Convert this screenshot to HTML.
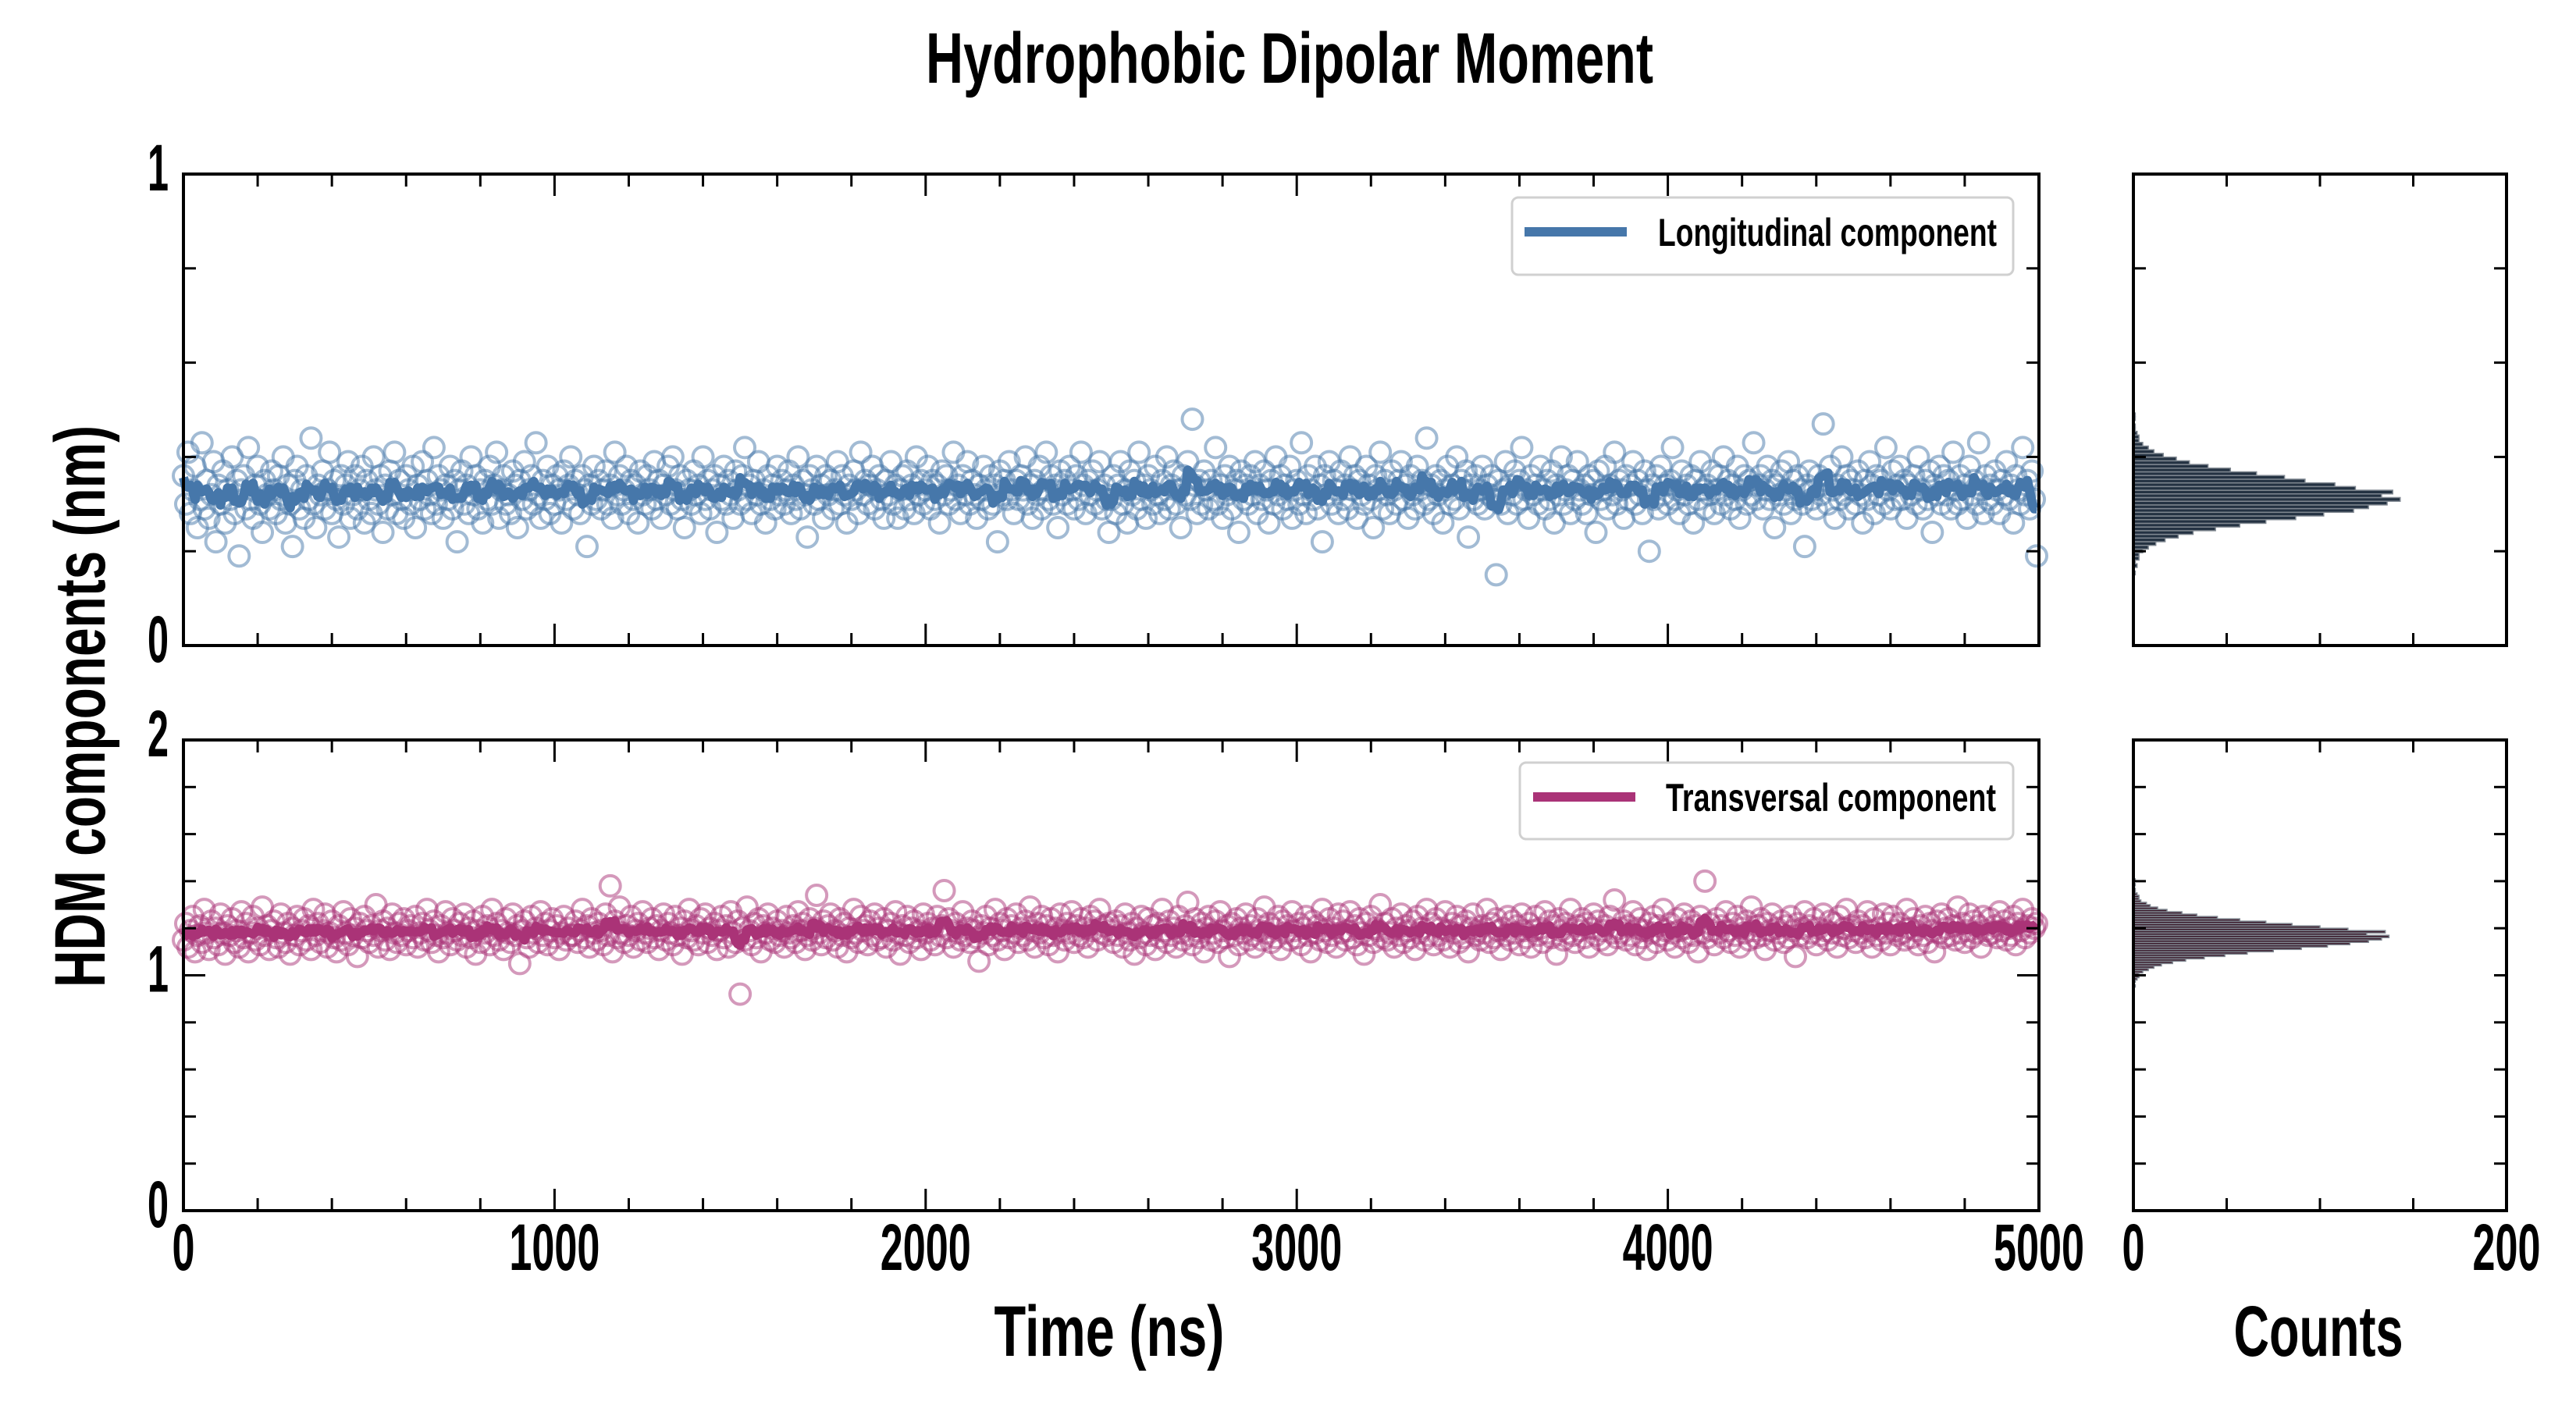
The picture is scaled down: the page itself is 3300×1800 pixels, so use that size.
<!DOCTYPE html>
<html><head><meta charset="utf-8"><style>
html,body{margin:0;padding:0;background:#fff;}
svg{display:block;}
text{font-family:"Liberation Sans Narrow","Liberation Sans",sans-serif;font-weight:bold;fill:#000;}
</style></head><body>
<svg id="chart" width="3300" height="1800" viewBox="0 0 3300 1800" xmlns="http://www.w3.org/2000/svg"></svg>
<script>
const longitudinal = [
0.36,0.30,0.41,0.28,0.33,0.38,0.25,0.31,0.43,0.29,0.35,0.27,0.32,0.39,0.22,0.34,0.30,0.37,0.26,0.33,
0.31,0.40,0.28,0.35,0.19,0.33,0.36,0.29,0.42,0.31,0.27,0.34,0.38,0.30,0.24,0.35,0.32,0.29,0.37,0.33,
0.28,0.36,0.31,0.40,0.26,0.34,0.30,0.21,0.35,0.38,0.29,0.33,0.27,0.36,0.31,0.44,0.30,0.25,0.34,0.32,
0.37,0.29,0.33,0.41,0.28,0.35,0.31,0.23,0.36,0.30,0.34,0.39,0.27,0.32,0.36,0.29,0.33,0.38,0.26,0.35,
0.31,0.28,0.40,0.33,0.30,0.36,0.24,0.34,0.29,0.37,0.32,0.41,0.28,0.35,0.31,0.27,0.36,0.33,0.30,0.38,
0.25,0.34,0.31,0.39,0.29,0.35,0.32,0.28,0.42,0.30,0.36,0.33,0.27,0.34,0.31,0.38,0.29,0.35,0.22,0.33,
0.37,0.30,0.34,0.28,0.40,0.32,0.36,0.29,0.33,0.26,0.35,0.31,0.38,0.30,0.34,0.41,0.27,0.33,0.36,0.30,
0.32,0.28,0.37,0.34,0.25,0.35,0.31,0.39,0.29,0.33,0.36,0.30,0.43,0.32,0.27,0.35,0.31,0.38,0.28,0.34,
0.30,0.36,0.33,0.26,0.37,0.31,0.34,0.40,0.29,0.35,0.32,0.28,0.36,0.33,0.21,0.34,0.30,0.38,0.31,0.35,
0.29,0.33,0.37,0.30,0.34,0.27,0.41,0.32,0.36,0.30,0.33,0.38,0.28,0.35,0.31,0.34,0.26,0.37,0.32,0.30,
0.36,0.33,0.29,0.39,0.31,0.35,0.27,0.34,0.32,0.38,0.30,0.40,0.33,0.29,0.36,0.31,0.25,0.35,0.33,0.30,
0.37,0.32,0.34,0.28,0.40,0.31,0.35,0.29,0.33,0.36,0.24,0.34,0.31,0.38,0.30,0.35,0.32,0.27,0.37,0.33,
0.30,0.36,0.42,0.31,0.34,0.28,0.35,0.32,0.39,0.30,0.33,0.26,0.36,0.31,0.34,0.29,0.38,0.32,0.35,0.30,
0.33,0.37,0.28,0.34,0.31,0.40,0.29,0.35,0.32,0.23,0.36,0.33,0.30,0.38,0.31,0.34,0.27,0.36,0.32,0.35,
0.29,0.33,0.39,0.30,0.36,0.32,0.26,0.34,0.31,0.37,0.33,0.28,0.41,0.32,0.35,0.30,0.34,0.38,0.29,0.33,
0.36,0.31,0.27,0.35,0.32,0.39,0.30,0.34,0.27,0.33,0.36,0.29,0.37,0.31,0.34,0.28,0.40,0.32,0.35,0.30,
0.33,0.38,0.29,0.35,0.31,0.34,0.26,0.37,0.32,0.36,0.30,0.33,0.41,0.31,0.34,0.28,0.36,0.32,0.39,0.30,
0.35,0.32,0.27,0.34,0.31,0.38,0.33,0.29,0.36,0.30,0.34,0.22,0.37,0.32,0.35,0.31,0.39,0.33,0.28,0.35,
0.31,0.36,0.33,0.40,0.30,0.34,0.27,0.35,0.32,0.38,0.29,0.33,0.41,0.31,0.36,0.30,0.34,0.25,0.37,0.32,
0.35,0.30,0.38,0.33,0.29,0.36,0.31,0.41,0.34,0.28,0.35,0.32,0.37,0.30,0.33,0.39,0.29,0.34,0.31,0.24,
0.31,0.36,0.28,0.34,0.39,0.30,0.33,0.26,0.37,0.32,0.35,0.29,0.41,0.31,0.34,0.27,0.36,0.33,0.30,0.38,
0.32,0.28,0.35,0.31,0.40,0.29,0.34,0.37,0.30,0.33,0.25,0.36,0.32,0.39,0.31,0.48,0.34,0.28,0.35,0.30,
0.37,0.33,0.29,0.35,0.31,0.42,0.30,0.34,0.27,0.36,0.32,0.38,0.29,0.33,0.35,0.24,0.37,0.31,0.34,0.30,
0.36,0.32,0.39,0.28,0.34,0.31,0.37,0.33,0.26,0.35,0.30,0.40,0.32,0.36,0.29,0.34,0.31,0.38,0.27,0.33,
0.35,0.30,0.43,0.32,0.28,0.36,0.33,0.31,0.38,0.29,0.34,0.22,0.36,0.32,0.39,0.30,0.35,0.33,0.28,0.37,
0.31,0.34,0.29,0.40,0.33,0.36,0.27,0.35,0.32,0.30,0.38,0.34,0.31,0.25,0.36,0.33,0.41,0.29,0.35,0.32,
0.28,0.37,0.33,0.30,0.35,0.39,0.31,0.34,0.27,0.36,0.32,0.29,0.38,0.33,0.35,0.30,0.44,0.31,0.34,0.28,
0.36,0.32,0.35,0.26,0.33,0.38,0.30,0.34,0.31,0.40,0.29,0.35,0.33,0.37,0.23,0.34,0.31,0.36,0.30,0.33,
0.38,0.29,0.34,0.32,0.36,0.31,0.15,0.35,0.30,0.33,0.39,0.28,0.34,0.32,0.37,0.30,0.35,0.42,0.31,0.33,
0.27,0.36,0.32,0.34,0.30,0.38,0.33,0.29,0.35,0.31,0.37,0.26,0.34,0.32,0.40,0.30,0.33,0.36,0.28,0.35,
0.31,0.39,0.33,0.30,0.34,0.28,0.36,0.32,0.35,0.24,0.37,0.31,0.33,0.38,0.29,0.34,0.32,0.41,0.30,0.35,
0.33,0.27,0.36,0.31,0.34,0.39,0.30,0.35,0.32,0.28,0.37,0.33,0.20,0.34,0.31,0.36,0.29,0.38,0.32,0.34,
0.30,0.35,0.42,0.31,0.33,0.28,0.37,0.32,0.34,0.30,0.36,0.26,0.35,0.31,0.39,0.33,0.29,0.34,0.32,0.37,
0.28,0.33,0.36,0.30,0.40,0.32,0.35,0.29,0.34,0.31,0.38,0.27,0.33,0.36,0.30,0.35,0.32,0.43,0.31,0.34,
0.36,0.29,0.33,0.38,0.31,0.35,0.25,0.34,0.32,0.37,0.30,0.33,0.39,0.28,0.35,0.31,0.36,0.33,0.30,0.21,
0.34,0.37,0.31,0.33,0.29,0.36,0.32,0.47,0.35,0.30,0.38,0.33,0.27,0.34,0.31,0.40,0.32,0.36,0.29,0.35,
0.33,0.30,0.37,0.32,0.26,0.35,0.31,0.39,0.34,0.28,0.36,0.32,0.35,0.30,0.42,0.33,0.29,0.37,0.31,0.34,
0.38,0.31,0.35,0.27,0.34,0.32,0.36,0.30,0.40,0.33,0.29,0.35,0.31,0.37,0.24,0.34,0.32,0.38,0.30,0.36,
0.32,0.35,0.29,0.41,0.33,0.30,0.36,0.31,0.34,0.27,0.38,0.32,0.35,0.30,0.43,0.33,0.28,0.36,0.31,0.34,
0.30,0.37,0.33,0.28,0.35,0.32,0.39,0.31,0.34,0.26,0.36,0.33,0.30,0.42,0.32,0.35,0.29,0.37,0.31,0.19];
const transversal = [
1.15,1.22,1.12,1.19,1.25,1.10,1.17,1.21,1.14,1.28,1.18,1.11,1.23,1.16,1.20,1.13,1.26,1.18,1.09,1.21,
1.17,1.24,1.14,1.19,1.12,1.27,1.16,1.22,1.10,1.18,1.25,1.15,1.20,1.13,1.29,1.17,1.21,1.11,1.19,1.23,
1.16,1.12,1.26,1.18,1.14,1.22,1.09,1.20,1.17,1.25,1.13,1.19,1.24,1.15,1.21,1.11,1.28,1.17,1.22,1.14,
1.19,1.26,1.12,1.18,1.23,1.16,1.10,1.21,1.15,1.27,1.18,1.13,1.24,1.17,1.20,1.08,1.22,1.16,1.25,1.19,
1.14,1.21,1.17,1.30,1.12,1.19,1.23,1.15,1.20,1.11,1.26,1.18,1.14,1.22,1.17,1.24,1.13,1.19,1.21,1.16,
1.25,1.12,1.18,1.22,1.15,1.28,1.19,1.14,1.23,1.17,1.10,1.21,1.16,1.27,1.18,1.13,1.24,1.19,1.15,1.22,
1.17,1.26,1.12,1.20,1.16,1.23,1.09,1.19,1.14,1.25,1.18,1.21,1.13,1.28,1.17,1.22,1.15,1.19,1.11,1.24,
1.18,1.14,1.26,1.17,1.21,1.05,1.19,1.23,1.16,1.12,1.25,1.18,1.20,1.14,1.27,1.17,1.22,1.13,1.19,1.24,
1.16,1.21,1.11,1.18,1.25,1.15,1.20,1.17,1.17,1.23,1.14,1.19,1.28,1.16,1.21,1.12,1.24,1.18,1.15,1.22,
1.19,1.13,1.26,1.17,1.38,1.10,1.23,1.16,1.29,1.18,1.14,1.21,1.17,1.25,1.12,1.19,1.22,1.15,1.27,1.18,
1.14,1.20,1.24,1.16,1.21,1.11,1.19,1.26,1.15,1.22,1.18,1.13,1.25,1.17,1.20,1.09,1.23,1.16,1.28,1.19,
1.15,1.21,1.13,1.24,1.18,1.26,1.14,1.20,1.17,1.22,1.11,1.19,1.25,1.16,1.21,1.12,1.27,1.18,1.14,1.23,
0.92,1.20,1.15,1.29,1.19,1.13,1.22,1.16,1.24,1.10,1.21,1.18,1.26,1.15,1.20,1.14,1.23,1.17,1.19,1.12,
1.25,1.18,1.16,1.21,1.14,1.27,1.19,1.22,1.11,1.17,1.24,1.15,1.20,1.34,1.18,1.13,1.23,1.16,1.21,1.26,
1.15,1.19,1.12,1.24,1.17,1.22,1.10,1.20,1.16,1.28,1.18,1.14,1.25,1.19,1.21,1.13,1.23,1.17,1.26,1.15,
1.20,1.16,1.24,1.12,1.19,1.22,1.15,1.27,1.18,1.09,1.21,1.17,1.25,1.14,1.20,1.23,1.16,1.19,1.11,1.26,
1.18,1.22,1.15,1.20,1.13,1.25,1.17,1.21,1.36,1.16,1.24,1.19,1.12,1.22,1.18,1.15,1.27,1.17,1.20,1.14,
1.23,1.19,1.16,1.06,1.21,1.18,1.25,1.13,1.20,1.17,1.28,1.15,1.22,1.19,1.11,1.24,1.16,1.21,1.18,1.26,
1.14,1.20,1.17,1.23,1.15,1.29,1.19,1.12,1.22,1.18,1.25,1.16,1.21,1.13,1.24,1.17,1.20,1.10,1.26,1.19,
1.15,1.22,1.18,1.27,1.14,1.21,1.17,1.24,1.16,1.20,1.12,1.25,1.19,1.23,1.15,1.28,1.18,1.21,1.17,1.22,
1.19,1.14,1.23,1.17,1.21,1.12,1.26,1.18,1.15,1.22,1.09,1.20,1.16,1.25,1.18,1.13,1.24,1.17,1.21,1.11,
1.22,1.16,1.28,1.19,1.14,1.23,1.17,1.20,1.12,1.25,1.18,1.15,1.21,1.31,1.17,1.13,1.24,1.19,1.16,1.22,
1.10,1.20,1.25,1.15,1.18,1.23,1.14,1.27,1.19,1.16,1.21,1.08,1.22,1.17,1.24,1.13,1.20,1.18,1.26,1.15,
1.21,1.17,1.12,1.24,1.19,1.15,1.29,1.18,1.22,1.14,1.20,1.16,1.25,1.11,1.23,1.18,1.21,1.15,1.27,1.19,
1.16,1.22,1.13,1.20,1.25,1.17,1.10,1.23,1.18,1.21,1.15,1.28,1.19,1.14,1.24,1.17,1.20,1.12,1.26,1.18,
1.23,1.15,1.19,1.27,1.16,1.21,1.13,1.24,1.18,1.09,1.22,1.17,1.25,1.14,1.20,1.19,1.30,1.16,1.22,1.15,
1.18,1.24,1.12,1.20,1.17,1.26,1.14,1.21,1.19,1.16,1.23,1.11,1.25,1.18,1.20,1.15,1.28,1.17,1.22,1.13,
1.24,1.17,1.20,1.15,1.27,1.19,1.12,1.22,1.18,1.25,1.14,1.21,1.16,1.23,1.10,1.20,1.26,1.17,1.19,1.15,
1.21,1.18,1.28,1.14,1.22,1.16,1.24,1.19,1.11,1.20,1.17,1.25,1.15,1.23,1.18,1.21,1.13,1.26,1.19,1.16,
1.22,1.12,1.19,1.25,1.17,1.20,1.14,1.27,1.18,1.23,1.16,1.21,1.09,1.24,1.19,1.15,1.22,1.18,1.28,1.17,
1.14,1.21,1.19,1.24,1.16,1.22,1.12,1.20,1.26,1.17,1.23,1.15,1.19,1.21,1.13,1.25,1.18,1.32,1.16,1.20,
1.18,1.23,1.15,1.21,1.17,1.27,1.13,1.20,1.24,1.16,1.19,1.11,1.22,1.18,1.25,1.14,1.21,1.17,1.28,1.19,
1.15,1.22,1.18,1.12,1.24,1.19,1.16,1.26,1.20,1.14,1.23,1.17,1.21,1.10,1.25,1.18,1.40,1.16,1.22,1.19,
1.13,1.24,1.18,1.21,1.16,1.27,1.19,1.14,1.22,1.17,1.25,1.12,1.20,1.18,1.23,1.15,1.29,1.19,1.16,1.21,
1.24,1.17,1.11,1.22,1.19,1.26,1.15,1.20,1.18,1.23,1.14,1.21,1.16,1.25,1.19,1.08,1.22,1.17,1.20,1.27,
1.16,1.21,1.18,1.24,1.13,1.20,1.17,1.26,1.19,1.15,1.23,1.18,1.22,1.12,1.25,1.17,1.20,1.28,1.16,1.21,
1.19,1.14,1.23,1.18,1.21,1.16,1.27,1.19,1.12,1.24,1.17,1.20,1.15,1.26,1.18,1.22,1.13,1.25,1.19,1.17,
1.22,1.18,1.15,1.28,1.20,1.16,1.24,1.19,1.13,1.21,1.17,1.25,1.14,1.22,1.19,1.10,1.23,1.18,1.26,1.16,
1.20,1.24,1.17,1.21,1.15,1.29,1.18,1.22,1.14,1.19,1.26,1.16,1.23,1.18,1.21,1.12,1.25,1.19,1.17,1.24,
1.18,1.21,1.16,1.27,1.19,1.23,1.15,1.20,1.17,1.25,1.13,1.22,1.19,1.28,1.16,1.21,1.18,1.24,1.20,1.22];
const timeStart = 0, timeStep = 6.25;
const histTopStart = 0.15, histTopWidth = 0.0078;
const histTopCounts = [1,0,2,1,3,3,5,8,12,17,24,32,44,57,71,87,102,118,126,136,143,133,139,119,108,92,81,66,52,40,30,23,16,11,8,5,3,3,2,1,1,0,1,1];
const histBotStart = 0.95, histBotWidth = 0.01;
const histBotCounts = [1,0,1,2,3,3,5,8,11,15,21,28,38,49,61,75,90,104,116,126,133,137,125,135,115,100,85,71,57,45,34,26,18,13,9,7,4,3,3,2,1,1,0,1,0,1,0];
const timeTicks = [0,1000,2000,3000,4000,5000];
const countTicks = [0,200];
const topYTicks = [0,1];
const botYTicks = [0,1,2];

const NS = "http://www.w3.org/2000/svg";
const svg = document.getElementById('chart');
function el(tag, attrs, parent){const e=document.createElementNS(NS,tag);for(const k in attrs)e.setAttribute(k,attrs[k]);(parent||svg).appendChild(e);return e;}
function txt(s, x, y, size, anchor, len, parent){const t=el('text',{x:x,y:y,'font-size':size,'text-anchor':anchor||'middle'},parent);if(len){t.setAttribute('textLength',len);t.setAttribute('lengthAdjust','spacingAndGlyphs');}t.textContent=s;return t;}

const MX0=235, MX1=2612, HX0=2733, HX1=3211;
const P1={y0:827,y1:223,lo:0,hi:1}, P2={y0:1551,y1:948,lo:0,hi:2};
const xT = v => MX0 + (v-0)/5000*(MX1-MX0);
const xC = v => HX0 + v/200*(HX1-HX0);
const yOf = (p,v) => p.y0 - (v-p.lo)/(p.hi-p.lo)*(p.y0-p.y1);

let t=txt('Hydrophobic Dipolar Moment',1652,106,92,'middle',932);


t=txt('Time (ns)',1421,1737,92,'middle',295);


t=txt('Counts',2970,1737,92,'middle',217);


t=txt('HDM components (nm)',0,0,92,'middle',720);
t.setAttribute('transform','translate(134,905) rotate(-90)');



function series(p, data, color, name){
  const g=el('g',{});
  
  
  data.forEach((v,i)=>{
    const c=el('circle',{cx:xT(timeStart+i*timeStep),cy:yOf(p,v),r:13,fill:'none',stroke:color,'stroke-width':4,'stroke-opacity':0.5},g);
    
    
  });
  let d='';
  data.forEach((v,i)=>{
    let s=0,n=0;
    for(let k=-2;k<=2;k++){const j=i+k;if(j>=0&&j<data.length){s+=data[j];n++;}}
    d+=(i?'L':'M')+xT(timeStart+i*timeStep).toFixed(1)+' '+yOf(p,s/n).toFixed(1);
  });
  const ln=el('path',{d:d,fill:'none',stroke:color,'stroke-width':12,'stroke-linejoin':'round'},g);
  
  
}

function hist(p, start, w, counts, fill, name){
  const g=el('g',{});
  
  
  counts.forEach((c,i)=>{
    if(!c) return;
    const ya=yOf(p,start+i*w), yb=yOf(p,start+(i+1)*w);
    const r=el('rect',{x:HX0,y:Math.min(ya,yb),width:xC(c)-HX0,height:Math.abs(ya-yb),fill:fill,stroke:'#7f8790','stroke-width':1.5},g);
    
    
  });
}

function frame(x0,x1,p,xminor,xmajor,ymajorVals,yminorStep,xf,xlo,xhi,name,showX,xlabels){
  const g=el('g',{});
  
  
  for(let v=xlo; v<=xhi+1e-9; v+=xminor){
    const x=xf(v); const major=xmajor && Math.abs(v/xmajor-Math.round(v/xmajor))<1e-6; const L=major?28:16;
    el('line',{x1:x,x2:x,y1:p.y0,y2:p.y0-L,stroke:'#000','stroke-width':3},g);
    el('line',{x1:x,x2:x,y1:p.y1,y2:p.y1+L,stroke:'#000','stroke-width':3},g);
  }
  for(let v=p.lo; v<=p.hi+1e-9; v+=yminorStep){
    const y=yOf(p,v); const major=ymajorVals.some(m=>Math.abs(m-v)<1e-6); const L=major?28:16;
    el('line',{x1:x0,x2:x0+L,y1:y,y2:y,stroke:'#000','stroke-width':3},g);
    el('line',{x1:x1,x2:x1-L,y1:y,y2:y,stroke:'#000','stroke-width':3},g);
  }
  el('rect',{x:x0,y:p.y1,width:x1-x0,height:p.y0-p.y1,fill:'none',stroke:'#000','stroke-width':4},g);
  if(showX){
    xlabels.forEach(v=>{const s=String(v);const tt=txt(s,xf(v),1627,84,'middle',s.length*29,g);
      
      });
  }
}

series(P1, longitudinal, '#4677aa', 'longitudinal');
series(P2, transversal, '#aa3377', 'transversal');
hist(P1, histTopStart, histTopWidth, histTopCounts, '#243242', 'longitudinal');
hist(P2, histBotStart, histBotWidth, histBotCounts, '#3a1a2b', 'transversal');

frame(MX0,MX1,P1,200,1000,topYTicks,0.2,xT,0,5000,'top-main',false,[]);
frame(MX0,MX1,P2,200,1000,botYTicks,0.2,xT,0,5000,'bottom-main',true,timeTicks);
frame(HX0,HX1,P1,50,0,[],0.2,xC,0,200,'top-hist',false,[]);
frame(HX0,HX1,P2,50,0,[],0.2,xC,0,200,'bottom-hist',true,countTicks);

topYTicks.forEach(v=>{const tt=txt(String(v),216,yOf(P1,v)+21,84,'end',27);
  
  });
botYTicks.forEach(v=>{const tt=txt(String(v),216,yOf(P2,v)+21,84,'end',27);
  
  });

function legend(x,y,w,h,color,label,lx0,lx1,ly,tx,tl,name){
  const g=el('g',{});
  
  
  el('rect',{x:x,y:y,width:w,height:h,rx:8,fill:'#fff','fill-opacity':0.85,stroke:'#d0d0d0','stroke-width':3},g);
  el('line',{x1:lx0,x2:lx1,y1:ly,y2:ly,stroke:color,'stroke-width':12},g);
  txt(label,tx,ly+18,50,'start',tl,g);
}
legend(1937,253,642,99,'#4677aa','Longitudinal component',1953,2084,297,2124,434,'longitudinal');
legend(1947,977,632,98,'#aa3377','Transversal component',1964,2095,1021,2134,423,'transversal');
</script>
</body></html>
